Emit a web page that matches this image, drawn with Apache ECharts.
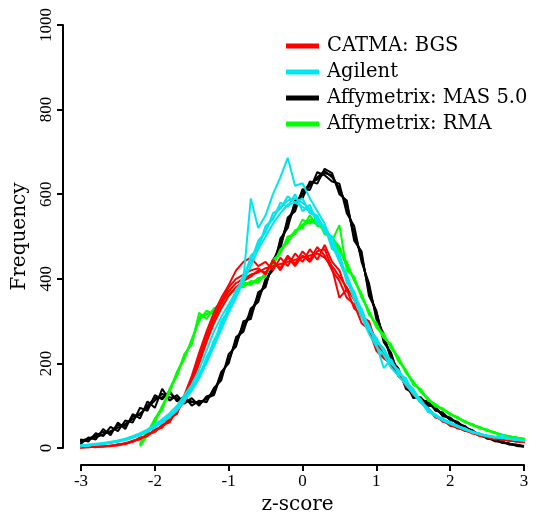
<!DOCTYPE html>
<html>
<head>
<meta charset="utf-8">
<script src="https://cdn.jsdelivr.net/npm/echarts@6/dist/echarts.min.js"></script>
<style>
html,body{margin:0;padding:0;background:#fff;}
#chart{width:536px;height:512px;}
</style>
</head>
<body>
<div id="chart"></div>
<script>
// z-score bin positions
const zBins = [-3.2,-3.1,-3.0,-2.9,-2.8,-2.7,-2.6,-2.5,-2.4,-2.3,
  -2.2,-2.1,-2.0,-1.9,-1.8,-1.7,-1.6,-1.5,-1.4,-1.3,
  -1.2,-1.1,-1.0,-0.9,-0.8,-0.7,-0.6,-0.5,-0.4,-0.3,
  -0.2,-0.1,0.0,0.1,0.2,0.3,0.4,0.5,0.6,0.7,
  0.8,0.9,1.0,1.1,1.2,1.3,1.4,1.5,1.6,1.7,
  1.8,1.9,2.0,2.1,2.2,2.3,2.4,2.5,2.6,2.7,
  2.8,2.9,3.0,3.1,3.2];

const xTicks = [-3,-2,-1,0,1,2,3];
const yTicks = [0,200,400,600,800,1000];

// CATMA: BGS replicates
const catma1 = [0,1,2,2,3,4,5,7,10,15, 22,30,40,50,65,85,115,160,210,260, 305,340,370,390,400,410,415,425,430,435, 440,445,450,455,460,450,430,405,380,350, 320,290,255,220,195,175,150,130,112,92, 75,65,55,48,42,36,30,26,22,20, 18,16,15,13,12];
const catma2 = [0,0,1,3,2,5,4,8,12,14, 25,28,45,48,72,80,125,170,225,275, 320,355,385,420,440,450,430,440,420,450, 430,460,440,470,445,480,440,420,370,360, 310,300,245,225,190,180,145,135,108,95, 72,68,52,50,40,38,28,27,20,21, 17,17,14,14,11];
const catma3 = [1,1,2,3,3,3,6,6,11,17, 20,33,38,55,60,92,108,150,200,250, 295,330,360,380,395,405,420,415,440,425, 455,435,465,445,475,455,420,395,355,340, 295,280,230,212,200,170,155,125,115,90, 78,62,57,46,44,34,31,25,24,19, 19,15,16,12,13];
const catma4 = [0,2,1,2,4,4,5,9,9,16, 24,29,42,52,68,88,118,165,215,265, 310,345,380,400,410,420,425,410,445,420, 450,430,455,440,465,470,425,355,375,330, 315,275,260,215,198,172,152,128,114,94, 74,66,54,49,42,37,29,26,23,20, 18,16,15,13,12];

// Agilent replicates
const agil1 = [1,3,5,6,8,10,13,16,20,25, 32,40,50,62,75,92,115,140,170,210, 250,290,330,365,405,445,480,515,545,570, 585,590,580,565,545,520,495,450,405,365, 325,285,255,232,205,180,160,135,112,90, 78,68,60,52,45,38,33,29,26,24, 22,20,18,15,13];
const agil2 = [2,4,6,8,10,12,15,18,22,28, 35,44,55,68,82,100,125,150,185,230, 275,310,340,370,400,590,520,550,600,640, 686,620,626,590,560,530,480,440,400,350, 310,270,240,220,190,170,150,128,108,88, 75,65,57,50,43,37,32,28,25,31, 21,19,17,14,12];
const agil3 = [0,2,4,7,7,11,12,17,19,26, 30,42,48,65,72,95,110,145,165,215, 245,300,325,375,395,455,470,525,540,580, 570,600,560,575,530,525,470,460,390,370, 315,290,245,189,210,175,165,130,115,85, 80,66,62,50,47,36,34,28,27,23, 23,19,19,14,14];
const agil4 = [1,2,6,5,9,9,14,15,21,24, 33,38,52,60,78,90,118,138,175,205, 255,285,335,360,410,440,490,510,555,565, 595,580,590,555,550,510,500,445,410,360, 330,280,260,228,200,185,155,140,110,92, 76,70,58,53,44,39,32,30,25,25, 21,20,17,16,13];
const agil5 = [1,3,4,6,8,9,12,16,19,24, 31,39,49,60,74,88,112,135,165,200, 240,280,320,355,395,430,470,500,530,555, 575,580,570,560,540,515,485,455,400,368, 320,288,250,236,200,182,158,136,110,94, 77,66,59,51,46,38,34,29,26,24, 22,21,18,15,13];

// Affymetrix: MAS 5.0 replicates
const mas1 = [5,12,15,20,26,32,40,48,57,68, 82,95,112,128,120,118,112,108,108,115, 135,170,210,250,285,315,355,390,430,480, 530,570,600,620,640,655,640,615,570,510, 450,375,315,262,215,180,148,125,115,108, 92,80,70,60,50,40,32,25,19,14, 10,7,4,null,null];
const mas2 = [3,18,10,25,20,45,30,60,45,80, 70,110,95,140,112,125,105,118,100,122, 128,180,200,262,275,330,345,400,420,495, 520,585,590,630,625,660,650,600,585,490, 465,360,325,250,225,170,155,118,120,100, 98,75,72,56,52,37,34,22,20,12, 11,5,3,null,null];
const mas3 = [8,10,20,15,35,28,50,40,65,60, 95,88,125,115,135,110,122,100,112,108, 142,160,222,240,300,305,368,380,445,470, 545,560,612,610,652,645,630,625,555,525, 440,390,305,270,208,188,140,130,108,112, 88,84,66,62,46,42,29,27,16,15, 8,8,5,null,null];
const mas4 = [4,15,18,22,30,38,35,55,52,75, 78,100,118,120,130,115,116,110,104,118, 125,175,205,255,290,320,360,385,438,485, 535,575,605,625,635,650,645,610,575,500, 455,370,320,258,220,176,150,122,118,104, 95,78,68,60,48,42,30,24,18,15, 9,6,4,null,null];

// Affymetrix: RMA replicates
const rma1 = [null,null,null,null,null,null,null,null,null,null, 8,35,65,95,135,175,215,252,310,318, 322,345,365,375,385,390,395,410,435,465, 490,510,525,535,530,515,495,470,430,400, 360,320,290,265,240,210,180,155,135,115, 100,92,80,72,62,55,48,42,36,31, 27,24,21,18,15];
const rma2 = [null,null,null,null,null,null,null,null,null,null, 4,30,70,90,140,170,222,245,320,305, 330,340,372,368,392,385,402,405,445,460, 500,505,540,530,545,505,500,465,440,395, 365,315,295,260,245,205,185,150,140,112, 104,90,82,70,64,53,50,40,38,30, 28,23,22,17,16];
const rma3 = [null,null,null,null,null,null,null,null,null,null, 10,40,60,100,130,180,210,258,300,325, 315,350,360,380,380,395,390,415,430,470, 485,515,520,550,525,525,490,527,420,405, 355,325,285,270,235,215,178,158,132,118, 98,94,78,74,60,57,46,44,35,32, 26,25,20,19,14];
const rma4 = [null,null,null,null,null,null,null,null,null,null, 6,38,68,98,138,178,218,250,305,315, 325,348,368,372,388,392,398,408,438,462, 495,512,528,540,535,510,498,475,428,398, 362,322,288,262,242,212,182,152,136,116, 102,90,80,71,63,54,49,42,37,31, 28,24,22,18,15];

const groupNames = ['CATMA: BGS','Agilent','Affymetrix: MAS 5.0','Affymetrix: RMA'];
const groupColors = ['#FF0000','#00E5EE','#000000','#00FF00'];
const groupData = [
  [catma1,catma2,catma3,catma4],
  [agil1,agil2,agil3,agil4,agil5],
  [mas1,mas2,mas3,mas4],
  [rma1,rma2,rma3,rma4]
];
const drawOrder = [2,3,0,1];

const FONT = 'DejaVu Serif';
const TICKFONT = 'Liberation Serif';
const series = [];
drawOrder.forEach(g => {
  groupData[g].forEach(arr => {
    series.push({
      name: groupNames[g],
      type: 'line',
      data: zBins.map((z,i) => [z, arr[i]]),
      showSymbol: false,
      symbol: 'none',
      clip: false,
      connectNulls: false,
      color: groupColors[g],
      lineStyle: {width: 2, color: groupColors[g]},
      emphasis: {disabled: true},
      animation: false
    });
  });
});

const chart = echarts.init(document.getElementById('chart'), null, {renderer:'canvas'});
chart.setOption({
  backgroundColor: '#ffffff',
  animation: false,
  grid: {left: 81, right: 12, top: 25, bottom: 64, containLabel: false, outerBoundsMode: 'none'},
  legend: {
    data: groupNames,
    orient: 'vertical',
    left: 286,
    top: 35,
    padding: 0,
    icon: 'rect',
    itemWidth: 33,
    itemHeight: 5,
    itemGap: 4,
    selectedMode: false,
    textStyle: {fontFamily: FONT, fontSize: 19.5, color: '#000', lineHeight: 22, padding: [0,0,0,3]}
  },
  xAxis: {
    type: 'value',
    min: xTicks[0],
    max: xTicks[xTicks.length-1],
    interval: 1,
    offset: 17,
    name: 'z-score',
    nameLocation: 'middle',
    nameGap: 24,
    nameTextStyle: {fontFamily: FONT, fontSize: 20, color: '#000', padding: [0,10,0,0]},
    axisLine: {show: true, onZero: false, lineStyle: {color: '#000', width: 2}},
    axisTick: {show: true, length: 6, lineStyle: {color: '#000', width: 2}},
    axisLabel: {fontFamily: TICKFONT, fontSize: 17, color: '#000', margin: 8, formatter: v => String(v)},
    splitLine: {show: false}
  },
  yAxis: {
    type: 'value',
    min: yTicks[0],
    max: yTicks[yTicks.length-1],
    interval: 200,
    offset: 18,
    name: 'Frequency',
    nameLocation: 'middle',
    nameGap: 30,
    nameTextStyle: {fontFamily: FONT, fontSize: 20, color: '#000'},
    axisLine: {show: true, onZero: false, lineStyle: {color: '#000', width: 2}},
    axisTick: {show: true, length: 6, lineStyle: {color: '#000', width: 2}},
    axisLabel: {fontFamily: TICKFONT, fontSize: 17, color: '#000', margin: 8, rotate: 90, formatter: v => String(v)},
    splitLine: {show: false}
  },
  series: series
});
</script>
</body>
</html>
